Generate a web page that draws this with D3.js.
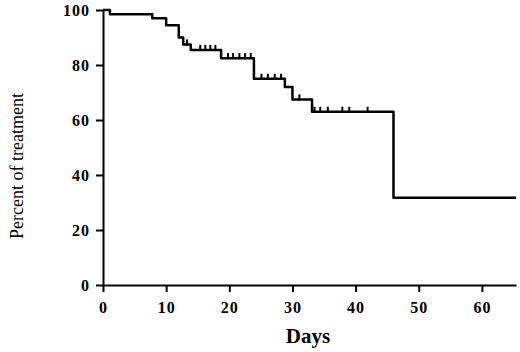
<!DOCTYPE html>
<html>
<head>
<meta charset="utf-8">
<script src="https://cdn.jsdelivr.net/npm/d3@7"></script>
<style>
  body { margin: 0; background: #fff; }
  svg { display: block; }
</style>
</head>
<body>
<svg id="chart" width="520" height="352"></svg>
<script>
// step points of the survival curve: [day, percent]
let stepDays   = [0, 1.1, 7.8, 10, 12, 12.7, 13.9, 18.7, 23.9, 28.8, 30, 33.1, 46];
let stepValues = [100, 98.5, 97, 94.5, 90, 87.5, 85.5, 82.5, 75, 72, 67.5, 63, 31.7];
let lastDay = 65.4;
// censored observations (tick marks)
let censorDays = [13.3, 15.4, 16.2, 17.0, 17.8, 19.8, 20.6, 21.6, 22.5, 23.4,
                  25.1, 26.1, 27.2, 28.2, 31.1, 33.5, 34.4, 35.6, 37.9, 39.0, 41.9];
let xTicks = [0, 10, 20, 30, 40, 50, 60];
let yTicks = [0, 20, 40, 60, 80, 100];

function drawChart(holder){
	let svg = d3.select(holder);
	let margin = {"left": 103, "top": 10, "right": 4, "bottom": 67};
	let width = 520, height = 352;

	let x = d3.scaleLinear().domain([0, 65.4]).range([margin.left, width - margin.right]);
	let y = d3.scaleLinear().domain([0, 100]).range([height - margin.bottom, margin.top]);

	let xAxis = svg.append("g")
		.attr("transform", `translate(0,${y(0)})`)
		.call(d3.axisBottom(x).tickValues(xTicks).tickSize(7).tickSizeOuter(0).tickPadding(10));
	let yAxis = svg.append("g")
		.attr("transform", `translate(${x(0)},0)`)
		.call(d3.axisLeft(y).tickValues(yTicks).tickSize(7).tickSizeOuter(0).tickPadding(6));

	[xAxis, yAxis].forEach(function(a){
		a.selectAll("path, line").attr("stroke", "#000").attr("stroke-width", 2);
		a.selectAll("text")
			.attr("fill", "#000")
			.style("font-family", "'Liberation Serif', 'Times New Roman', serif")
			.style("font-weight", "bold")
			.style("font-size", "16px")
			.style("letter-spacing", "1px");
	});
	yAxis.selectAll("text").attr("dy", "0.36em");

	// survival step curve
	let pts = stepDays.map((d, i) => [d, stepValues[i]]);
	pts.push([lastDay, stepValues[stepValues.length - 1]]);
	let line = d3.line()
		.x(d => x(d[0]))
		.y(d => y(d[1]))
		.curve(d3.curveStepAfter);
	svg.append("path")
		.attr("d", line(pts))
		.attr("fill", "none")
		.attr("stroke", "#000")
		.attr("stroke-width", 2.5)
		.attr("stroke-linejoin", "round");

	function valueAt(day){
		let v = stepValues[0];
		stepDays.forEach(function(d, i){ if (d <= day) v = stepValues[i]; });
		return v;
	}

	svg.append("g").selectAll("line")
		.data(censorDays)
		.enter().append("line")
			.attr("x1", d => x(d))
			.attr("x2", d => x(d))
			.attr("y1", d => y(valueAt(d)) - 5)
			.attr("y2", d => y(valueAt(d)) + 1)
			.attr("stroke", "#000")
			.attr("stroke-width", 2);

	svg.append("text")
		.attr("x", 308)
		.attr("y", 343)
		.attr("text-anchor", "middle")
		.style("font-family", "'Liberation Serif', 'Times New Roman', serif")
		.style("font-weight", "bold")
		.style("font-size", "21px")
		.text("Days");

	svg.append("text")
		.attr("transform", `translate(23,166) rotate(-90)`)
		.attr("text-anchor", "middle")
		.style("font-family", "'Liberation Serif', 'Times New Roman', serif")
		.style("font-size", "18px")
		.text("Percent of treatment");
}

drawChart("#chart");
</script>
</body>
</html>
